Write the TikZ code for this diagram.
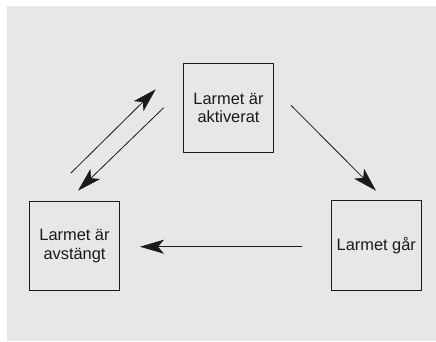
\documentclass[tikz,border=0pt]{standalone}
\usepackage{fontspec}
\setmainfont{Liberation Sans}
\usetikzlibrary{arrows.meta}
\definecolor{bg}{HTML}{E6E7E9}
\definecolor{ink}{HTML}{1A1A1A}
\begin{document}
\begin{tikzpicture}[x=1pt,y=-1pt,
  state/.style={draw=ink,line width=1pt,minimum width=89.6pt,minimum height=89.6pt,
    inner sep=0pt,align=center,font=\fontsize{16.4}{18.7}\selectfont,text=ink},
  arr/.style={draw=ink,line width=0.8pt,-{Stealth[length=24pt,width=14pt,inset=6pt]}}]
\useasboundingbox (0,0) rectangle (436,341);
\fill[bg] (7,6) rectangle (436,341);
\node[state] (akt) at (228.5,108) {Larmet är\\aktiverat};
\node[state] (avs) at (74.5,246) {Larmet är\\avstängt};
\node[state] (gar) at (376.3,245.5) {Larmet går};
\coordinate (u1) at (71,173);
\coordinate (u2) at (155.7,89.3);
\coordinate (d1) at (163.7,107.7);
\coordinate (d2) at (78,190.7);
\coordinate (r1) at (291,105.3);
\coordinate (r2) at (376,190.7);
\coordinate (l1) at (302,246.7);
\coordinate (l2) at (140,246.7);
\draw[arr] (u1) -- (u2);
\draw[arr] (d1) -- (d2);
\draw[arr] (r1) -- (r2);
\draw[arr] (l1) -- (l2);
\end{tikzpicture}
\end{document}
